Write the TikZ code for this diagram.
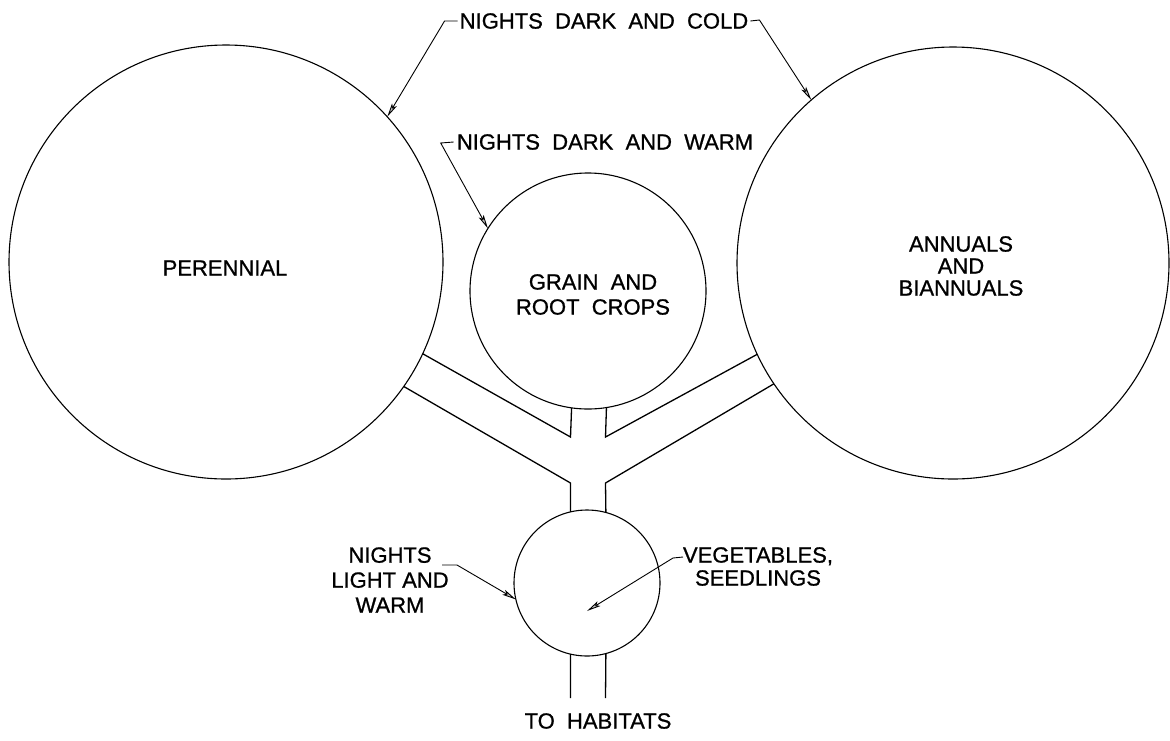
\documentclass[tikz,border=0pt]{standalone}
\usepackage{fontspec}
\setmainfont{Liberation Sans}[FakeBold=0.9]
\newfontfamily\widefont{Liberation Sans}[WordSpace=2,FakeBold=0.9]
\usetikzlibrary{arrows.meta}
\begin{document}
\begin{tikzpicture}[x=1pt,y=-1pt,
  room/.style={circle, draw, line width=1.1pt, inner sep=0pt, outer sep=0pt},
  lbl/.style={font=\fontsize{22}{25}\selectfont, inner sep=0pt, align=center},
  widelbl/.style={font=\widefont\fontsize{22}{25}\selectfont, inner sep=0pt, align=center},
  wall/.style={line width=1.3pt, line join=miter},
  lead/.style={line width=0.9pt, -{Stealth[length=14pt,width=5.5pt,inset=3pt,fill=gray!45]}}]
\useasboundingbox (0,0) rectangle (1170,740);

% rooms
\node[room, minimum size=434pt] (per) at (226,262) {};
\node[room, minimum size=432pt] (ann) at (953,263) {};
\node[room, minimum size=236pt] (grain) at (588,291) {};
\node[room, minimum size=146pt] (veg) at (587,583) {};

% labels
\node[lbl] (pertext) at (225,268) {PERENNIAL};
\node[lbl, font=\fontsize{22}{22}\selectfont] (anntext) at (961,266) {ANNUALS\\AND\\BIANNUALS};
\node[widelbl] (graintext) at (593,294.5) {GRAIN AND\\ROOT CROPS};
\node[widelbl] (cold) at (604,21) {NIGHTS DARK AND COLD};
\node[widelbl] (warm) at (605,142) {NIGHTS DARK AND WARM};
\node[lbl] (light) at (390,580) {NIGHTS\\LIGHT AND\\WARM};
\node[lbl, font=\fontsize{22}{23}\selectfont] (vegtext) at (758,566.5) {VEGETABLES,\\SEEDLINGS};
\node[widelbl] (habitat) at (598,721) {TO HABITATS};

% corridors
\draw[wall] (grain.-98.5) -- (570.5,437) -- (per.-25);
\draw[wall] (grain.-81.5) -- (605.5,437) -- (ann.205);
\draw[wall] (per.-35) -- (570.5,483) -- (veg.103.06);
\draw[wall] (ann.214) -- (605.5,483) -- (veg.75.32);
\coordinate (outL) at (570.5,698);
\coordinate (outR) at (605.5,698);
\draw[wall] (veg.-103.06) -- (outL);
\draw[wall] (veg.-75.32) -- (outR);

% leaders
\draw[lead] ([xshift=-2pt]cold.west) -- ++(-13,0) -- (per.42);
\draw[lead] ([xshift=2pt]cold.east) -- ++(9,-1) -- (ann.131);
\draw[lead] ([xshift=-3pt]warm.west) -- ++(-13,1) -- (grain.148);
\coordinate (lightA) at (442,565);
\draw[lead] (lightA) -- ++(15,0) -- (veg.193);
\coordinate (vegA) at (683,557);
\coordinate (vegtip) at (587,611);
\draw[lead] (vegA) -- ++(-10,1) -- (vegtip);
\end{tikzpicture}
\end{document}
